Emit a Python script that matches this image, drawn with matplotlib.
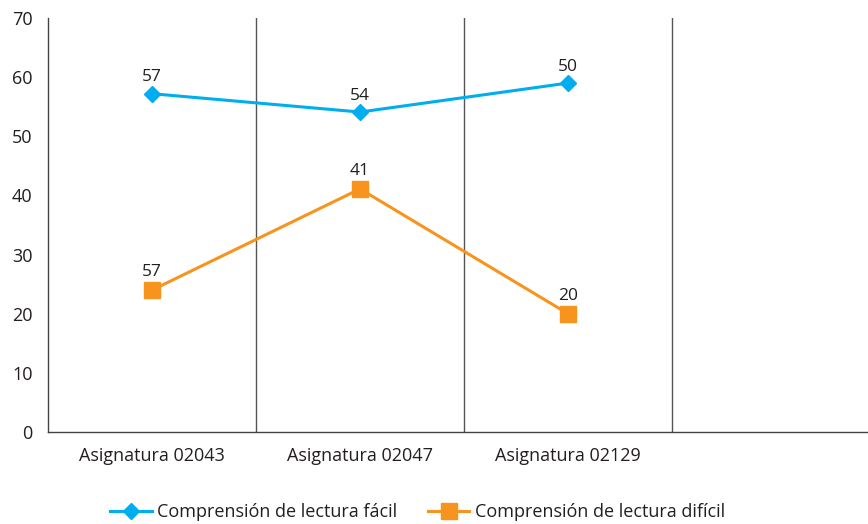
import matplotlib.pyplot as plt

plt.rcParams['font.family'] = ['Open Sans', 'DejaVu Sans']

categories = ["Asignatura 02043", "Asignatura 02047", "Asignatura 02129"]
facil = [57.2, 54.1, 59.0]
dificil = [24.0, 41.1, 20.0]
facil_labels = ["57", "54", "50"]
dificil_labels = ["57", "41", "20"]

txt = '#231f20'
blue = '#00aeef'
orange = '#f7941d'

fig = plt.figure(figsize=(8.68, 5.24), dpi=100)
ax = fig.add_axes([48/868, 92/524, 820/868, 414/524])

x = list(range(len(categories)))
ax.plot(x, facil, color=blue, lw=2.2, marker='D', ms=8, label="Comprensión de lectura fácil")
ax.plot(x, dificil, color=orange, lw=2.2, marker='s', ms=11, label="Comprensión de lectura difícil")

for i in x:
    ax.annotate(facil_labels[i], (i, facil[i]), xytext=(0, 6), textcoords='offset points',
                ha='center', va='bottom', fontsize=12.5, color=txt)
    ax.annotate(dificil_labels[i], (i, dificil[i]), xytext=(0, 7), textcoords='offset points',
                ha='center', va='bottom', fontsize=12.5, color=txt)

for b in [0.5, 1.5, 2.5]:
    ax.axvline(b, color='#555555', lw=1, zorder=0)

ax.set_xlim(-0.5, 3.442)
ax.set_ylim(0, 70)
ax.set_yticks(range(0, 71, 10))
ax.set_xticks(x)
ax.set_xticklabels(categories)
ax.tick_params(length=0, labelsize=13, colors=txt, pad=11)
ax.tick_params(axis='y', pad=11)
for s in ['top', 'right']:
    ax.spines[s].set_visible(False)
for s in ['left', 'bottom']:
    ax.spines[s].set_color('#444444')
    ax.spines[s].set_linewidth(1)

fig.legend(loc='lower center', bbox_to_anchor=(0.481, -0.025), ncol=2, frameon=False,
           fontsize=13, handlelength=2.3, handletextpad=0.3, columnspacing=1.7,
           labelcolor=txt)

fig.savefig('out.png', dpi=100)
